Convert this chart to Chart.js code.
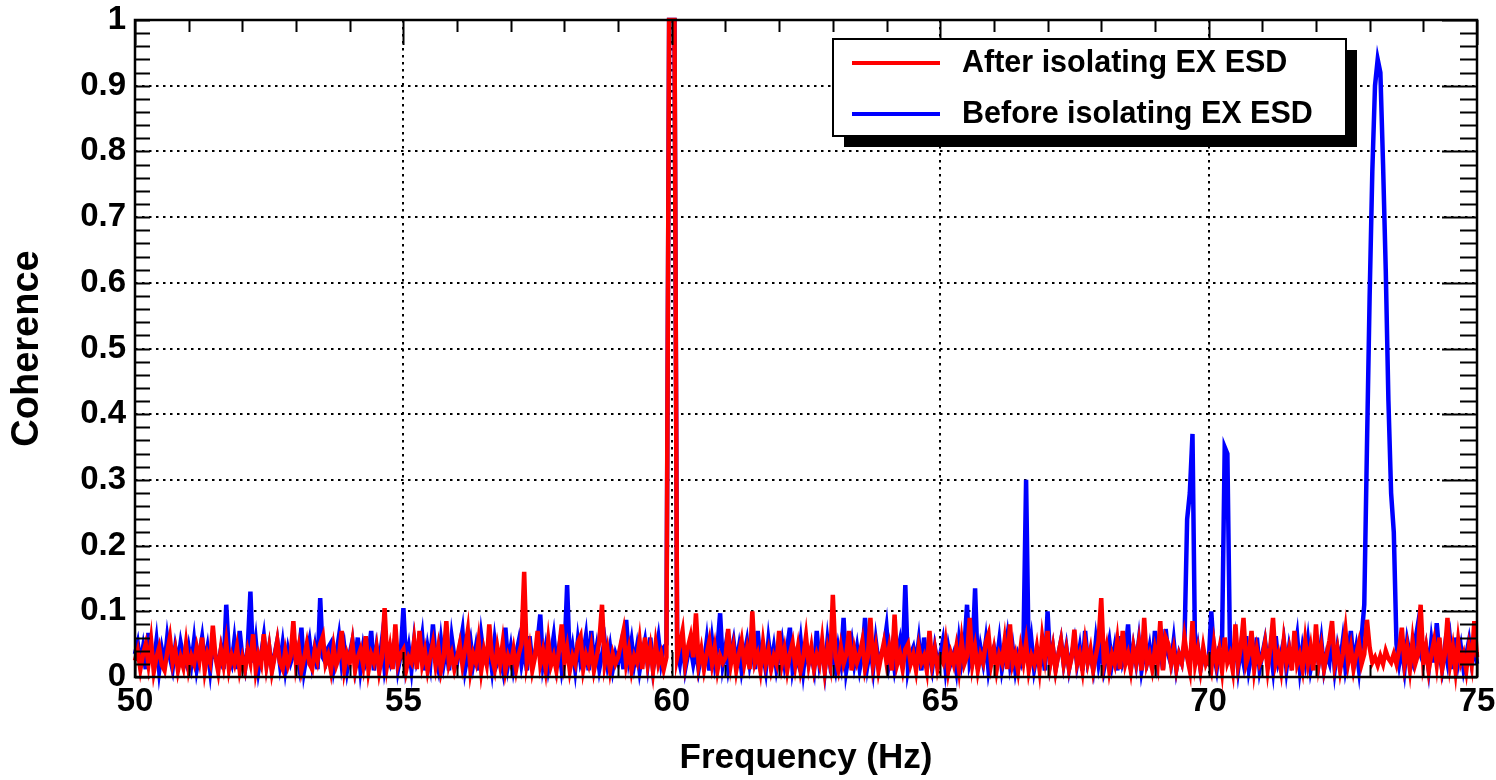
<!DOCTYPE html>
<html>
<head>
<meta charset="utf-8">
<script src="https://cdn.jsdelivr.net/npm/chart.js@4.4.1/dist/chart.umd.min.js"></script>
<style>
html,body{margin:0;padding:0;background:#fff;}
canvas{display:block;}
</style>
</head>
<body>
<canvas id="c" width="1496" height="780"></canvas>
<script>
// ---- DATA ----
const freqStart = 50;      // Hz, first bin
const freqStep = 0.05;     // Hz, bin width
const xTickValues = [50, 55, 60, 65, 70, 75];
const yTickValues = [0, 0.1, 0.2, 0.3, 0.4, 0.5, 0.6, 0.7, 0.8, 0.9, 1];
const seriesLabels = ['After isolating EX ESD', 'Before isolating EX ESD'];
const xTitle = 'Frequency (Hz)';
const yTitle = 'Coherence';

// coherence, one row of 20 bins per Hz
const afterIsolating = [
/*50*/ .025,.04,.012,.035,.05, .02,.055,.008,.03,.045, .018,.01,.038,.06,.022, .042,.01,.03,.015,.05,
/*51*/ .012,.032,.02,.045,.025, .06,.01,.035,.022,.078, .03,.008,.042,.018,.052, .012,.033,.02,.045,.01,
/*52*/ .03,.012,.04,.022,.065, .01,.034,.02,.065,.018, .045,.008,.03,.055,.022, .012,.04,.018,.032,.085,
/*53*/ .02,.045,.01,.028,.05, .02,.012,.042,.025,.05, .062,.02,.033,.01,.045, .018,.03,.07,.012,.035,
/*54*/ .022,.052,.01,.03,.042, .018,.062,.01,.034,.022, .045,.008,.03,.105,.02, .045,.012,.08,.02,.035,
/*55*/ .042,.01,.03,.022,.055, .012,.07,.02,.04,.01, .032,.052,.018,.045,.01, .03,.085,.02,.035,.012,
/*56*/ .03,.05,.018,.042,.07, .01,.035,.022,.055,.01, .04,.02,.08,.03,.012, .045,.02,.052,.01,.032,
/*57*/ .02,.042,.012,.035,.05, .16,.022,.045,.01,.03, .07,.02,.04,.012,.055, .018,.032,.01,.042,.08,
/*58*/ .022,.045,.01,.032,.02, .052,.062,.012,.034,.02, .045,.01,.03,.055,.11, .02,.042,.01,.035,.02,
/*59*/ .03,.05,.07,.02,.042, .01,.032,.022,.055,.012, .06,.02,.045,.01,.05, .02,.035,.012,.03,1,
/*60*/ 1,1,.03,.05,.07, .02,.045,.062,.03,.097, .02,.042,.012,.035,.055, .02,.045,.01,.032,.022,
/*61*/ .03,.073,.02,.045,.01, .034,.055,.02,.042,.012, .10,.022,.035,.01,.052, .02,.04,.012,.032,.02,
/*62*/ .07,.02,.042,.01,.035, .052,.018,.045,.01,.03, .062,.02,.045,.012,.034, .02,.055,.01,.042,.02,
/*63*/ .125,.03,.012,.045,.02, .034,.07,.01,.042,.022, .035,.055,.012,.03,.09, .02,.045,.01,.032,.052,
/*64*/ .022,.045,.01,.095,.02, .035,.012,.042,.05,.02, .034,.01,.045,.022,.032, .01,.07,.02,.042,.012,
/*65*/ .03,.022,.052,.01,.035, .02,.045,.012,.055,.02, .032,.09,.02,.045,.01, .034,.022,.052,.065,.02,
/*66*/ .042,.01,.034,.022,.055, .012,.08,.02,.035,.01, .045,.022,.052,.01,.032, .02,.045,.012,.06,.03,
/*67*/ .07,.02,.045,.01,.034, .055,.02,.042,.012,.03, .072,.02,.035,.01,.052, .022,.042,.01,.032,.055,
/*68*/ .12,.022,.045,.01,.034, .02,.055,.012,.07,.02, .035,.01,.045,.022,.052, .01,.09,.02,.034,.012,
/*69*/ .042,.02,.085,.01,.06, .05,.02,.042,.012,.034, .022,.06,.03,.01,.085, .02,.042,.012,.045,.02,
/*70*/ .03,.012,.05,.02,.042, .01,.06,.022,.034,.01, .08,.02,.045,.09,.02, .034,.07,.012,.042,.02,
/*71*/ .03,.052,.012,.045,.09, .02,.035,.01,.055,.022, .042,.01,.07,.02,.034, .012,.055,.02,.045,.01,
/*72*/ .08,.02,.045,.012,.034, .055,.085,.02,.042,.01, .035,.07,.022,.045,.012, .034,.052,.02,.035,.087,
/*73*/ .045,.022,.03,.018,.032, .02,.04,.028,.022,.035, .02,.042,.075,.02,.045, .012,.055,.02,.034,.11,
/*74*/ .022,.045,.01,.035,.055, .02,.06,.012,.034,.09, .02,.045,.01,.055,.022, .035,.01,.045,.02,.085,
/*75*/ .03
];

const beforeIsolating = [
/*50*/ .035,.052,.02,.045,.012, .067,.03,.022,.055,.01, .042,.02,.06,.03,.012, .045,.022,.052,.03,.02,
/*51*/ .045,.02,.055,.012,.035, .06,.022,.045,.01,.052, .03,.02,.042,.012,.11, .032,.02,.055,.012,.07,
/*52*/ .03,.012,.045,.13,.022, .055,.01,.035,.062,.02, .045,.012,.034,.055,.02, .05,.012,.042,.022,.035,
/*53*/ .045,.02,.075,.01,.034, .055,.02,.045,.012,.12, .03,.022,.045,.052,.012, .035,.062,.02,.045,.01,
/*54*/ .035,.055,.02,.06,.012, .045,.022,.034,.07,.01, .045,.02,.055,.012,.035, .022,.045,.06,.012,.034,
/*55*/ .105,.02,.045,.012,.055, .022,.034,.062,.01,.045, .02,.08,.03,.012,.055, .02,.045,.01,.06,.03,
/*56*/ .022,.045,.07,.012,.035, .055,.02,.045,.01,.062, .03,.02,.045,.012,.055, .022,.034,.012,.075,.02,
/*57*/ .045,.012,.035,.055,.02, .045,.01,.062,.022,.035, .055,.095,.02,.045,.012, .034,.062,.02,.045,.01,
/*58*/ .034,.14,.02,.045,.012, .055,.022,.035,.062,.01, .07,.02,.045,.012,.034, .055,.02,.045,.012,.035,
/*59*/ .022,.045,.012,.087,.03, .055,.02,.045,.01,.035, .055,.02,.06,.012,.035, .06,.022,.045,.05,1,
/*60*/ 1,1,.04,.02,.052, .012,.034,.045,.02,.042, .012,.035,.022,.055,.01, .055,.02,.045,.097,.02,
/*61*/ .045,.012,.035,.055,.02, .045,.01,.034,.055,.02, .045,.012,.07,.022,.035, .01,.055,.02,.045,.012,
/*62*/ .034,.055,.02,.045,.075, .012,.035,.022,.055,.01, .045,.02,.034,.012,.07, .022,.045,.01,.055,.02,
/*63*/ .034,.012,.045,.022,.09, .01,.035,.055,.02,.045, .012,.034,.09,.02,.045, .012,.055,.022,.035,.045,
/*64*/ .075,.022,.045,.012,.035, .055,.02,.14,.012,.034, .045,.022,.055,.01,.06, .02,.034,.012,.045,.022,
/*65*/ .034,.055,.012,.045,.022, .035,.01,.055,.022,.045, .11,.02,.034,.135,.012, .045,.022,.055,.01,.034,
/*66*/ .045,.022,.055,.012,.035, .062,.02,.045,.01,.034, .022,.045,.30,.02,.055, .012,.035,.022,.045,.01,
/*67*/ .10,.022,.045,.012,.034, .055,.02,.045,.012,.035, .055,.02,.045,.01,.07, .022,.034,.012,.055,.02,
/*68*/ .045,.012,.034,.055,.02, .045,.01,.062,.022,.035, .08,.012,.045,.02,.055, .01,.034,.022,.045,.012,
/*69*/ .07,.022,.045,.012,.073, .034,.02,.055,.012,.035, .022,.05,.24,.28,.37, .02,.045,.012,.034,.022,
/*70*/ .02,.10,.034,.012,.045, .05,.35,.34,.03,.022, .055,.012,.045,.022,.062, .012,.035,.022,.06,.012,
/*71*/ .034,.055,.022,.045,.012, .062,.022,.035,.055,.012, .045,.022,.034,.062,.012, .045,.022,.055,.012,.034,
/*72*/ .045,.022,.055,.012,.035, .022,.062,.012,.045,.022, .055,.012,.034,.07,.022, .045,.012,.06,.11,.35,
/*73*/ .58,.77,.90,.94,.92, .78,.62,.42,.28,.22, .05,.02,.045,.012,.055, .034,.022,.055,.08,.034,
/*74*/ .022,.045,.012,.055,.022, .082,.034,.012,.045,.022, .055,.012,.06,.022,.045, .012,.034,.055,.022,.045,
/*75*/ .02
];

const frequency = afterIsolating.map((_, i) => +(freqStart + i * freqStep).toFixed(2));

// ---- STYLE ----
const FONT = "'Liberation Sans', Arial, Helvetica, sans-serif";
const RED = '#ff0000', BLUE = '#0000ff';

const toPoints = arr => arr.map((v, i) => ({ x: frequency[i], y: v }));

// frame, inner tick marks (ROOT style), drawn over the data
const framePlugin = {
  id: 'rootFrame',
  afterDatasetsDraw(chart) {
    const { ctx, chartArea: a, scales: { x, y } } = chart;
    ctx.save();
    ctx.setLineDash([]);
    ctx.strokeStyle = '#000';
    ctx.lineCap = 'butt';
    ctx.lineWidth = 2;
    ctx.beginPath();
    const yMinor = 0.02;
    const nY = Math.round((y.max - y.min) / yMinor);
    for (let k = 0; k <= nY; k++) {
      const v = y.min + k * yMinor;
      const p = Math.round(y.getPixelForValue(v)) + 0.5;
      const major = k % 5 === 0;
      ctx.moveTo(a.left, p); ctx.lineTo(a.left + 15, p);
      ctx.moveTo(a.right, p); ctx.lineTo(a.right - (major ? 35 : 17), p);
    }
    for (let f = x.min; f <= x.max + 1e-9; f += 1) {
      const p = Math.round(x.getPixelForValue(f)) + 0.5;
      const major = Math.round(f) % 5 === 0;
      const L = major ? 25 : 12;
      ctx.moveTo(p, a.bottom); ctx.lineTo(p, a.bottom - L);
      ctx.moveTo(p, a.top); ctx.lineTo(p, a.top + L);
    }
    ctx.stroke();
    ctx.lineWidth = 2.5;
    ctx.strokeRect(a.left, a.top, a.right - a.left, a.bottom - a.top);
    ctx.restore();
  }
};

// ROOT-like legend box with shadow
const legendPlugin = {
  id: 'rootLegend',
  afterDraw(chart) {
    const { ctx } = chart;
    const bx = 833, by = 39, bw = 513, bh = 97, sh = 11;
    ctx.save();
    ctx.setLineDash([]);
    ctx.fillStyle = '#000';
    ctx.fillRect(bx + sh, by + sh, bw, bh);
    ctx.fillStyle = '#fff';
    ctx.fillRect(bx, by, bw, bh);
    ctx.strokeStyle = '#000';
    ctx.lineWidth = 2;
    ctx.strokeRect(bx, by, bw, bh);
    const rows = [63, 114];
    chart.data.datasets.forEach((ds, i) => {
      const yy = rows[i];
      ctx.strokeStyle = ds.borderColor;
      ctx.lineWidth = 4;
      ctx.beginPath();
      ctx.moveTo(852, yy); ctx.lineTo(940, yy);
      ctx.stroke();
      ctx.fillStyle = '#000';
      ctx.font = 'bold 30.5px ' + FONT;
      ctx.textAlign = 'left';
      ctx.textBaseline = 'middle';
      ctx.fillText(ds.label, 962, yy + 1);
    });
    ctx.restore();
  }
};

const innerGrid = (lo, hi) => (c) => {
  const v = c.tick ? c.tick.value : null;
  return (v !== null && v > lo + 1e-9 && v < hi - 1e-9) ? '#000' : 'rgba(0,0,0,0)';
};

const fmt = v => String(Number(Number(v).toFixed(2)));

new Chart(document.getElementById('c'), {
  type: 'line',
  data: {
    datasets: [
      {
        label: seriesLabels[0],
        data: toPoints(afterIsolating),
        borderColor: RED,
        backgroundColor: RED,
        borderWidth: 4.5,
        borderJoinStyle: 'miter',
        pointRadius: 0,
        tension: 0,
        fill: false,
        clip: false
      },
      {
        label: seriesLabels[1],
        data: toPoints(beforeIsolating),
        borderColor: BLUE,
        backgroundColor: BLUE,
        borderWidth: 4.5,
        borderJoinStyle: 'miter',
        pointRadius: 0,
        tension: 0,
        fill: false,
        clip: false
      }
    ]
  },
  options: {
    responsive: false,
    animation: false,
    devicePixelRatio: 1,
    layout: { padding: { top: 20, right: 19, left: 0, bottom: 0 } },
    plugins: {
      legend: { display: false },
      tooltip: { enabled: false }
    },
    scales: {
      x: {
        type: 'linear',
        min: 50,
        max: 75,
        afterBuildTicks: s => { s.ticks = xTickValues.map(v => ({ value: v })); },
        afterFit: s => { s.height = 103; s.paddingLeft = 0; s.paddingRight = 0; },
        ticks: {
          color: '#000',
          padding: 5,
          maxRotation: 0,
          autoSkip: false,
          callback: fmt,
          font: { family: FONT, size: 33, weight: 'bold' }
        },
        grid: {
          drawTicks: false,
          lineWidth: 2,
          color: innerGrid(50, 75)
        },
        border: { display: false, dash: [2.5, 4.5] },
        title: {
          display: true,
          text: xTitle,
          color: '#000',
          font: { family: FONT, size: 35, weight: 'bold' },
          padding: { top: 0, bottom: 1 }
        }
      },
      y: {
        type: 'linear',
        min: 0,
        max: 1,
        afterBuildTicks: s => { s.ticks = yTickValues.map(v => ({ value: v })); },
        afterFit: s => { s.width = 135; s.paddingTop = 0; s.paddingBottom = 0; },
        ticks: {
          color: '#000',
          padding: 9,
          autoSkip: false,
          callback: fmt,
          font: { family: FONT, size: 33, weight: 'bold' }
        },
        grid: {
          drawTicks: false,
          lineWidth: 2,
          color: innerGrid(0, 1)
        },
        border: { display: false, dash: [2.5, 4.5] },
        title: {
          display: true,
          text: yTitle,
          color: '#000',
          font: { family: FONT, size: 38, weight: 'bold' },
          padding: { top: 5, bottom: 0 }
        }
      }
    }
  },
  plugins: [framePlugin, legendPlugin]
});
</script>
</body>
</html>
